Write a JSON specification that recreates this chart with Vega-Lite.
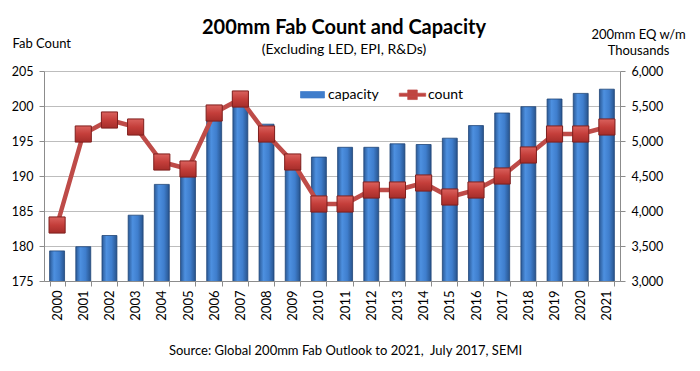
{
  "$schema": "https://vega.github.io/schema/vega-lite/v6.json",
  "width": 576,
  "height": 210,
  "autosize": {"type": "none"},
  "padding": {"left": 44, "top": 71, "right": 80, "bottom": 90},
  "background": "white",
  "config": {
    "view": {"stroke": null},
    "font": "Lato",
    "axis": {"labelFont": "Lato", "titleFont": "Lato", "labelColor": "#000000", "titleColor": "#000000", "domainColor": "#8C8C8C", "tickColor": "#8C8C8C", "gridColor": "#BDBDBD", "labelFontSize": 12.5, "titleFontWeight": "normal"}
  },
  "title": {
    "text": "200mm Fab Count and Capacity",
    "subtitle": "(Excluding LED, EPI, R&Ds)",
    "font": "Lato",
    "fontSize": 20,
    "fontWeight": "bold",
    "color": "#000000",
    "subtitleFont": "Lato",
    "subtitleFontSize": 14,
    "subtitleColor": "#000000",
    "subtitlePadding": 5,
    "anchor": "middle",
    "frame": "group",
    "dx": 12,
    "offset": -29
  },
  "data": {
    "values": [
      {"year": "2000", "capacity": 3430, "count": 183},
      {"year": "2001", "capacity": 3490, "count": 196},
      {"year": "2002", "capacity": 3650, "count": 198},
      {"year": "2003", "capacity": 3940, "count": 197},
      {"year": "2004", "capacity": 4380, "count": 192},
      {"year": "2005", "capacity": 4550, "count": 191},
      {"year": "2006", "capacity": 5300, "count": 199},
      {"year": "2007", "capacity": 5630, "count": 201},
      {"year": "2008", "capacity": 5240, "count": 196},
      {"year": "2009", "capacity": 4640, "count": 192},
      {"year": "2010", "capacity": 4770, "count": 186},
      {"year": "2011", "capacity": 4910, "count": 186},
      {"year": "2012", "capacity": 4910, "count": 188},
      {"year": "2013", "capacity": 4960, "count": 188},
      {"year": "2014", "capacity": 4950, "count": 189},
      {"year": "2015", "capacity": 5040, "count": 187},
      {"year": "2016", "capacity": 5220, "count": 188},
      {"year": "2017", "capacity": 5400, "count": 190},
      {"year": "2018", "capacity": 5490, "count": 193},
      {"year": "2019", "capacity": 5600, "count": 196},
      {"year": "2020", "capacity": 5680, "count": 196},
      {"year": "2021", "capacity": 5740, "count": 197}
    ]
  },
  "encoding": {
    "x": {
      "field": "year",
      "type": "nominal",
      "sort": null,
      "scale": {"paddingInner": 0.43, "paddingOuter": 0.215},
      "axis": {
        "title": "Source: Global 200mm Fab Outlook to 2021,\u00a0 July 2017, SEMI",
        "titleFontSize": 13,
        "titleX": 301,
        "titleY": 69,
        "titleAlign": "center",
        "titleBaseline": "middle",
        "labelAngle": -90,
        "labelFontSize": 13,
        "labelPadding": 4,
        "tickSize": 5,
        "tickBand": "extent",
        "domainColor": "#8C8C8C"
      }
    }
  },
  "layer": [
    {
      "mark": {
        "type": "bar",
        "clip": true,
        "fill": {"gradient": "linear", "x1": 0, "y1": 0, "x2": 1, "y2": 0, "stops": [
          {"offset": 0, "color": "#2B5A97"},
          {"offset": 0.3, "color": "#4D90E0"},
          {"offset": 0.65, "color": "#3F7ECD"},
          {"offset": 1, "color": "#28548D"}
        ]},
        "stroke": "#1F4577",
        "strokeWidth": 0.8
      },
      "encoding": {
        "y": {
          "field": "capacity",
          "type": "quantitative",
          "scale": {"domain": [3000, 6000], "zero": false, "nice": false},
          "axis": {
            "orient": "right",
            "values": [3000, 3500, 4000, 4500, 5000, 5500, 6000],
            "format": ",.0f",
            "grid": false,
            "tickSize": 5,
            "labelPadding": 6,
            "labelOverlap": false,
            "title": ["200mm EQ w/m", "Thousands"],
            "titleFontSize": 13,
            "titleAngle": 0,
            "titleX": 18,
            "titleY": -43,
            "titleAlign": "center",
            "titleBaseline": "top",
            "titleLineHeight": 16
          }
        }
      }
    },
    {
      "encoding": {
        "y": {
          "field": "count",
          "type": "quantitative",
          "scale": {"domain": [175, 205], "zero": false, "nice": false},
          "axis": {
            "orient": "left",
            "values": [175, 180, 185, 190, 195, 200, 205],
            "format": "d",
            "grid": true,
            "labelOverlap": false,
            "tickSize": 5,
            "labelPadding": 6,
            "title": "Fab Count",
            "titleFontSize": 13,
            "titleAngle": 0,
            "titleX": -32,
            "titleY": -28,
            "titleAlign": "left",
            "titleBaseline": "middle"
          }
        }
      },
      "layer": [
        {
          "mark": {"type": "line", "strokeWidth": 4.5, "color": "#BE4B48"},
          "encoding": {
            "color": {
              "datum": "count",
              "type": "nominal",
              "scale": {"domain": ["capacity", "count"], "range": ["#3F7DCB", "#BE4B48"]},
              "legend": {
                "title": null,
                "orient": "none",
                "legendX": 256,
                "legendY": 11,
                "direction": "horizontal",
                "labelFont": "Lato",
                "labelFontSize": 14,
                "labelColor": "#000000",
                "labelOffset": 3,
                "columnPadding": 18,
                "symbolSize": 576,
                "encode": {
                  "symbols": {
                    "update": {
                      "shape": {"signal": "datum.value === 'count' ? 'M-1.1,-0.13H1.1V0.13H-1.1Z M-0.4,-0.4H0.4V0.4H-0.4Z' : 'M-1,-0.27H1V0.27H-1Z'"},
                      "fill": {"signal": "datum.value === 'count' ? '#C0443F' : '#3F7DCB'"},
                      "fillOpacity": {"value": 1},
                      "stroke": {"signal": "datum.value === 'count' ? '#8B2523' : '#1F4577'"},
                      "strokeWidth": {"value": 0.7}
                    }
                  }
                }
              }
            }
          }
        },
        {
          "mark": {
            "type": "square",
            "size": 260,
            "fillOpacity": 1,
            "fill": {"gradient": "linear", "x1": 0, "y1": 0, "x2": 0, "y2": 1, "stops": [
              {"offset": 0, "color": "#DA625E"},
              {"offset": 0.5, "color": "#C43E3A"},
              {"offset": 1, "color": "#A52D2A"}
            ]},
            "stroke": "#7F1F1D",
            "strokeWidth": 1
          }
        }
      ]
    }
  ],
  "resolve": {"scale": {"y": "independent"}}
}
